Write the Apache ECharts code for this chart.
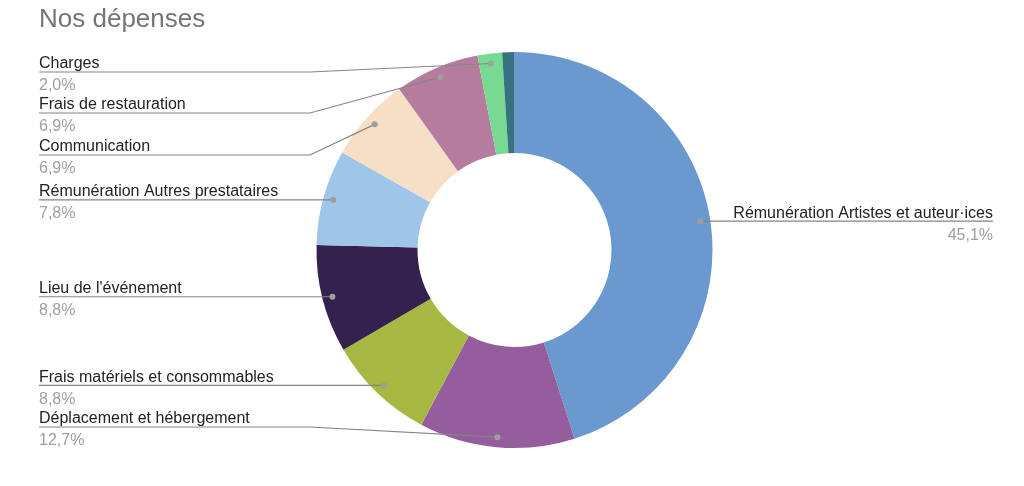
<!DOCTYPE html>
<html><head><meta charset="utf-8">
<script src="https://cdn.jsdelivr.net/npm/echarts@6/dist/echarts.min.js"></script>
<style>html,body{margin:0;padding:0;background:#fff}#c{width:1024px;height:486px}</style>
</head><body><div id="c"></div>
<script>
// ---- data ----
const categories = ["Rémunération Artistes et auteur·ices","Déplacement et hébergement","Frais matériels et consommables","Lieu de l'événement","Rémunération Autres prestataires","Communication","Frais de restauration","Charges","Autres"];
const values = [45.1, 12.7, 8.8, 8.8, 7.8, 6.9, 6.9, 2.0, 1.0];
const showLabel = [true, true, true, true, true, true, true, true, false];
const colors = ['#6a99cf','#955d9e','#a6b841','#34214d','#9fc5e8','#f6dfc6','#b67c9e','#78d993','#387180'];

// ---- layout ----
const CENTER = [514.5, 250];
const R_IN = 97, R_OUT = 198, R_DOT = 188;
const rowLineY = [null, 427, null, null, null, 155, 113, 72, null]; // label rows (null = at anchor)
const LEFT_X = 39, RIGHT_X = 993, ELBOW_X = 310;
const FONT = '"Liberation Sans", Arial, sans-serif';

const chart = echarts.init(document.getElementById('c'), null, {renderer: 'canvas'});

const fmtPct = p => p.percent.toFixed(1).replace('.', ',') + '%';

const mainData = categories.map((n, i) => ({name: n, value: values[i], itemStyle: {color: colors[i]}}));
const labelData = categories.map((n, i) => ({
  name: n, value: values[i],
  label: {show: showLabel[i]}, labelLine: {show: showLabel[i]}
}));
const dotData = categories.map((n, i) => ({name: n, value: values[i], label: {show: showLabel[i]}}));

chart.setOption({
  animation: false,
  title: {
    text: 'Nos dépenses', left: LEFT_X, top: 7, padding: 0,
    textStyle: {fontFamily: FONT, fontSize: 26, fontWeight: 'normal', color: '#757575'}
  },
  series: [
    {
      type: 'pie', z: 2, center: CENTER, radius: [R_IN, R_OUT], startAngle: 90, clockwise: true,
      silent: true, label: {show: false}, labelLine: {show: false},
      itemStyle: {borderWidth: 0},
      data: mainData
    },
    {
      type: 'pie', z: 5, center: CENTER, radius: [0, R_DOT], startAngle: 90, clockwise: true,
      silent: true, avoidLabelOverlap: false,
      itemStyle: {color: 'rgba(0,0,0,0)', borderWidth: 0},
      label: {
        show: true, position: 'outside',
        formatter: p => '{n|' + p.name + '}\n{p|' + fmtPct(p) + '}',
        rich: {
          n: {fontFamily: FONT, fontSize: 16, color: '#222222', lineHeight: 28},
          p: {fontFamily: FONT, fontSize: 16, color: '#a0a0a0', lineHeight: 16}
        }
      },
      labelLine: {show: true, showAbove: true, length: 10, length2: 10, smooth: false, lineStyle: {color: '#858585', width: 1.2}},
      labelLayout: function (p) {
        const pts = p.labelLinePoints;
        if (!pts) return {};
        const s = pts[0];
        const left = pts[1][0] < s[0];
        const y = rowLineY[p.dataIndex] != null ? rowLineY[p.dataIndex] : s[1];
        if (left) {
          return {x: LEFT_X, y: y, align: 'left', verticalAlign: 'middle',
            labelLinePoints: [s, [ELBOW_X, y], [LEFT_X, y]]};
        }
        return {x: RIGHT_X, y: y, align: 'right', verticalAlign: 'middle',
          labelLinePoints: [s, [s[0], y], [RIGHT_X, y]]};
      },
      data: labelData
    },
    {
      type: 'pie', z: 6, center: CENTER, radius: [R_DOT - 13, R_DOT + 7], startAngle: 90, clockwise: true,
      silent: true,
      itemStyle: {color: 'rgba(0,0,0,0)', borderWidth: 0},
      label: {
        show: true, position: 'inside', formatter: '{d| }', color: 'rgba(0,0,0,0)',
        rich: {d: {width: 6, height: 6, borderRadius: 3, backgroundColor: '#9e9e9e', fontSize: 1, lineHeight: 6}}
      },
      labelLine: {show: false},
      data: dotData
    }
  ]
});
</script>
</body></html>
